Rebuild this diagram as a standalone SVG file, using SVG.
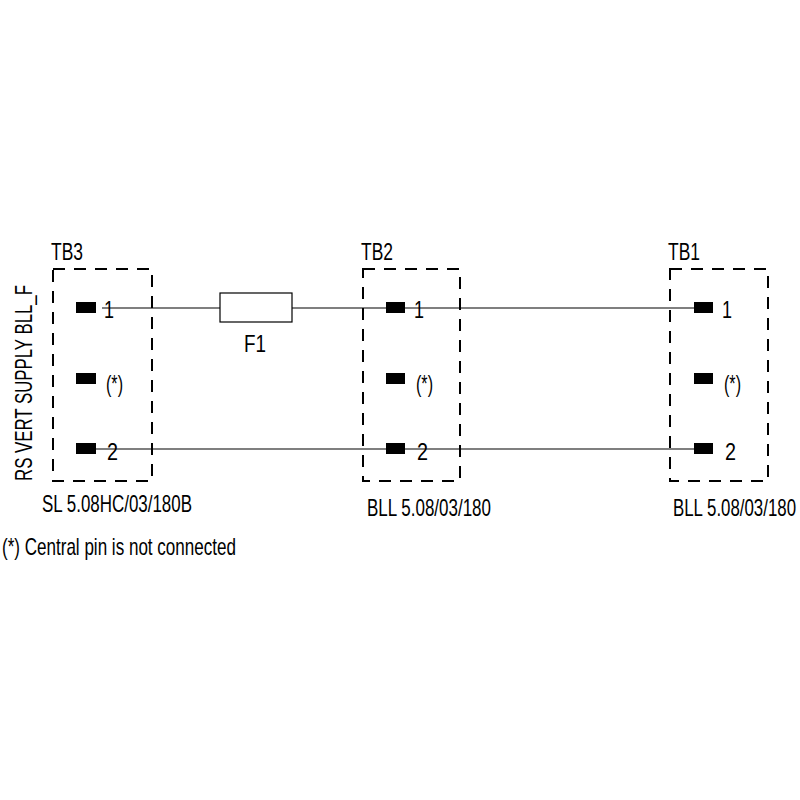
<svg xmlns="http://www.w3.org/2000/svg" width="800" height="800" viewBox="0 0 800 800">
<style>
text{font-family:"Liberation Sans",Arial,sans-serif;font-size:24px;fill:#000}
.box{fill:none;stroke:#000;stroke-width:2;stroke-dasharray:12,9}
.pin{fill:#000}
.w{stroke:#000;stroke-width:1.2;fill:none}
</style>
<rect width="800" height="800" fill="#fff"/>
<g id="connectors">
<line class="w" x1="102" y1="308" x2="700" y2="308"/>
<line class="w" x1="95" y1="449" x2="700" y2="449"/>
</g>
<g id="F1">
<rect x="220" y="293" width="72" height="29" fill="#fff" stroke="#000" stroke-width="1.2"/>
<text x="244" y="352" textLength="22" lengthAdjust="spacingAndGlyphs">F1</text>
</g>
<g id="TB3">
<rect class="box" x="53" y="269" width="99" height="212"/>
<text x="51" y="260" textLength="32" lengthAdjust="spacingAndGlyphs">TB3</text>
<rect class="pin" x="76" y="302" width="20" height="11"/>
<rect class="pin" x="76" y="373" width="20" height="11"/>
<rect class="pin" x="76" y="443" width="20" height="11"/>
<text x="104" y="318" textLength="10" lengthAdjust="spacingAndGlyphs">1</text>
<text x="106" y="392" textLength="17" lengthAdjust="spacingAndGlyphs">(*)</text>
<text x="107" y="460" textLength="11" lengthAdjust="spacingAndGlyphs">2</text>
<text x="42" y="512" textLength="150" lengthAdjust="spacingAndGlyphs">SL 5.08HC/03/180B</text>
</g>
<g id="TB2">
<rect class="box" x="363" y="269" width="97" height="212"/>
<text x="361" y="260" textLength="32" lengthAdjust="spacingAndGlyphs">TB2</text>
<rect class="pin" x="386" y="302" width="19" height="11"/>
<rect class="pin" x="386" y="373" width="19" height="11"/>
<rect class="pin" x="386" y="443" width="19" height="11"/>
<text x="414" y="318" textLength="10" lengthAdjust="spacingAndGlyphs">1</text>
<text x="416" y="392" textLength="17" lengthAdjust="spacingAndGlyphs">(*)</text>
<text x="417" y="460" textLength="11" lengthAdjust="spacingAndGlyphs">2</text>
<text x="367" y="516" textLength="124" lengthAdjust="spacingAndGlyphs">BLL 5.08/03/180</text>
</g>
<g id="TB1">
<rect class="box" x="670" y="269" width="98" height="212"/>
<text x="668" y="260" textLength="32" lengthAdjust="spacingAndGlyphs">TB1</text>
<rect class="pin" x="694" y="302" width="19" height="11"/>
<rect class="pin" x="694" y="373" width="19" height="11"/>
<rect class="pin" x="694" y="443" width="19" height="11"/>
<text x="722" y="318" textLength="10" lengthAdjust="spacingAndGlyphs">1</text>
<text x="724" y="392" textLength="17" lengthAdjust="spacingAndGlyphs">(*)</text>
<text x="725" y="460" textLength="11" lengthAdjust="spacingAndGlyphs">2</text>
<text x="673" y="516" textLength="123" lengthAdjust="spacingAndGlyphs">BLL 5.08/03/180</text>
</g>
<text transform="translate(32,481) rotate(-90)" textLength="196" lengthAdjust="spacingAndGlyphs">RS VERT SUPPLY BLL_F</text>
<text x="2" y="555" textLength="234" lengthAdjust="spacingAndGlyphs">(*) Central pin is not connected</text>
</svg>
